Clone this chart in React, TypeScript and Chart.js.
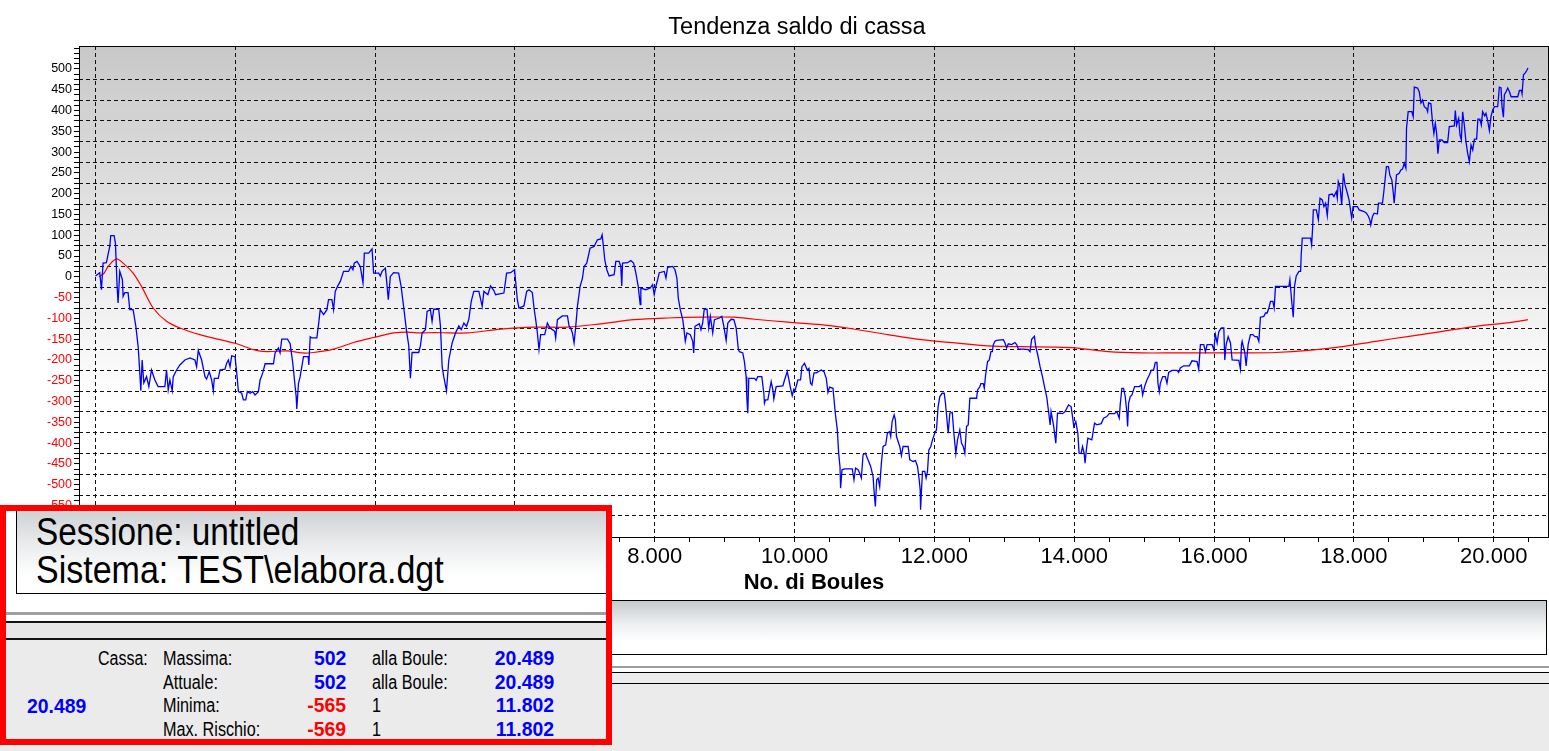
import React, { useEffect, useRef } from 'react';
import { Chart, registerables } from 'chart.js';

Chart.register(...registerables);

const W = 1549;
const H = 751;
const FONT = '"Liberation Sans", Arial, Helvetica, sans-serif';

const chartTitle = 'Tendenza saldo di cassa';
const xAxisTitle = 'No. di Boules';

const xLabelTicks = [0, 2000, 4000, 6000, 8000, 10000, 12000, 14000, 16000, 18000, 20000];
const yLabelTicks = [-600, -550, -500, -450, -400, -350, -300, -250, -200, -150, -100, -50, 0, 50, 100, 150, 200, 250, 300, 350, 400, 450, 500];
const yGridTicks = [-575, -525, -475, -425, -375, -325, -275, -225, -175, -125, -75, -25, 25, 75, 125, 175, 225, 275, 325, 375, 425, 475];

// Blue line: cash balance (No. di Boules -> saldo)
const bouleIndex = [
  0, 62, 86, 109, 157, 205, 219, 267, 286, 310, 324, 348, 386, 396, 420, 467, 491, 539, 578, 611,
  635, 649, 668, 692, 731, 764, 802, 850, 897, 993, 1017, 1041, 1065, 1098, 1113, 1161, 1208, 1280, 1352, 1423,
  1447, 1471, 1519, 1567, 1590, 1628, 1662, 1686, 1700, 1757, 1782, 1853, 1877, 1901, 1925, 1949, 1997, 2021, 2045, 2092,
  2116, 2150, 2173, 2212, 2250, 2283, 2331, 2355, 2393, 2427, 2546, 2570, 2617, 2641, 2665, 2747, 2785, 2823, 2847, 2871,
  2880, 2904, 2928, 2952, 2976, 3043, 3052, 3072, 3096, 3167, 3191, 3215, 3263, 3311, 3334, 3382, 3406, 3430, 3463, 3502,
  3549, 3621, 3655, 3683, 3702, 3741, 3788, 3827, 3846, 3908, 3956, 3979, 4051, 4075, 4099, 4147, 4161, 4189, 4218, 4266,
  4337, 4372, 4409, 4447, 4481, 4505, 4529, 4624, 4648, 4672, 4720, 4744, 4791, 4815, 4839, 4910, 4935, 4959, 4982, 5021,
  5054, 5102, 5150, 5198, 5232, 5270, 5307, 5341, 5375, 5412, 5484, 5532, 5556, 5613, 5651, 5699, 5723, 5842, 5881, 5938,
  5995, 6034, 6058, 6129, 6168, 6201, 6249, 6273, 6297, 6321, 6344, 6368, 6426, 6464, 6502, 6536, 6569, 6583, 6608, 6679,
  6751, 6775, 6798, 6822, 6846, 6870, 6894, 6932, 6966, 6989, 7027, 7075, 7132, 7180, 7228, 7247, 7266, 7285, 7314, 7347,
  7419, 7443, 7490, 7514, 7528, 7539, 7610, 7658, 7697, 7730, 7763, 7792, 7801, 7873, 7935, 7969, 7992, 8016, 8041, 8064,
  8136, 8160, 8184, 8256, 8289, 8317, 8336, 8365, 8399, 8413, 8437, 8460, 8508, 8543, 8557, 8575, 8637, 8661, 8685, 8708,
  8747, 8772, 8795, 8829, 8853, 8925, 8959, 8988, 9021, 9045, 9093, 9131, 9164, 9196, 9211, 9259, 9282, 9307, 9316, 9330,
  9345, 9426, 9450, 9474, 9531, 9560, 9569, 9584, 9617, 9665, 9689, 9703, 9727, 9737, 9833, 9856, 9895, 9919, 9942, 9966,
  9990, 10009, 10047, 10085, 10105, 10142, 10181, 10205, 10228, 10248, 10277, 10310, 10381, 10420, 10453, 10477, 10501, 10549, 10582, 10611,
  10630, 10649, 10658, 10678, 10715, 10825, 10849, 10872, 10907, 10930, 10955, 10979, 11012, 11050, 11088, 11122, 11137, 11155, 11174, 11194,
  11217, 11241, 11265, 11303, 11327, 11360, 11375, 11395, 11424, 11442, 11457, 11504, 11528, 11552, 11624, 11648, 11696, 11729, 11758, 11782,
  11796, 11802, 11815, 11829, 11862, 11881, 11901, 11920, 11948, 11972, 12005, 12029, 12053, 12077, 12111, 12140, 12158, 12197, 12220, 12255,
  12278, 12306, 12330, 12363, 12387, 12412, 12435, 12459, 12483, 12507, 12603, 12617, 12650, 12664, 12698, 12713, 12732, 12760, 12785, 12808,
  12828, 12842, 12866, 12890, 12986, 13009, 13033, 13057, 13105, 13152, 13176, 13201, 13272, 13344, 13367, 13391, 13430, 13449, 13478, 13511,
  13545, 13574, 13607, 13631, 13655, 13668, 13703, 13736, 13760, 13797, 13831, 13869, 13918, 13955, 13975, 13993, 14022, 14051, 14069, 14098,
  14118, 14141, 14155, 14170, 14194, 14251, 14290, 14323, 14385, 14419, 14466, 14500, 14576, 14609, 14643, 14657, 14681, 14705, 14729, 14753,
  14763, 14777, 14801, 14825, 14863, 14930, 14958, 14978, 15006, 15039, 15073, 15101, 15135, 15159, 15183, 15197, 15216, 15231, 15265, 15302,
  15326, 15350, 15398, 15469, 15493, 15517, 15565, 15646, 15684, 15756, 15780, 15804, 15852, 15876, 15900, 15971, 15995, 16019, 16043, 16067,
  16105, 16139, 16153, 16172, 16201, 16234, 16258, 16354, 16377, 16392, 16401, 16440, 16458, 16487, 16520, 16554, 16583, 16616, 16640, 16663,
  16711, 16735, 16759, 16783, 16807, 16840, 16859, 16878, 17070, 17084, 17108, 17132, 17151, 17175, 17213, 17237, 17246, 17261, 17380, 17395,
  17409, 17419, 17462, 17491, 17515, 17547, 17571, 17595, 17619, 17643, 17691, 17714, 17748, 17762, 17776, 17801, 17825, 17849, 17873, 17906,
  17930, 17954, 17968, 17988, 18050, 18074, 18146, 18179, 18208, 18227, 18241, 18265, 18289, 18336, 18351, 18408, 18425, 18440, 18465, 18494,
  18513, 18542, 18561, 18576, 18599, 18609, 18647, 18671, 18695, 18719, 18743, 18752, 18776, 18829, 18848, 18863, 18910, 18934, 18958, 18982,
  19006, 19039, 19054, 19068, 19101, 19125, 19144, 19164, 19183, 19201, 19221, 19259, 19292, 19340, 19364, 19436, 19450, 19469, 19498, 19517,
  19536, 19555, 19579, 19602, 19627, 19651, 19675, 19699, 19723, 19755, 19773, 19802, 19822, 19841, 19870, 19888, 19912, 19937, 19960, 19985,
  20009, 20056, 20080, 20104, 20118, 20138, 20152, 20176, 20200, 20224, 20248, 20343, 20367, 20396, 20405, 20425, 20453, 20472, 20489,
];
const cassaSaldo = [
  2, 10, -31, 33, 34, 73, 99, 99, 81, -23, -63, 13, -7, -47, -38, -38, -79, -79, -119, -168,
  -231, -274, -200, -255, -240, -264, -224, -248, -264, -264, -224, -272, -248, -274, -240, -224, -212, -200, -195, -200,
  -216, -177, -200, -240, -246, -228, -248, -274, -244, -244, -224, -222, -208, -200, -216, -190, -192, -231, -276, -280,
  -296, -296, -276, -280, -276, -284, -276, -248, -231, -209, -209, -183, -171, -183, -150, -150, -161, -208, -248, -288,
  -318, -256, -240, -216, -192, -192, -212, -144, -147, -147, -115, -79, -91, -79, -55, -55, -79, -35, -23, -11,
  13, 13, 25, 17, 33, 37, 25, -15, 57, 57, 67, 9, 9, 2, 13, 21, -3, -55, 1, 10,
  9, -23, -73, -127, -165, -244, -182, -182, -166, -135, -127, -83, -79, -107, -78, -78, -119, -216, -240, -274,
  -200, -159, -135, -118, -127, -111, -119, -102, -59, -35, -35, -71, -35, -43, -22, -33, -43, -39, 9, 10,
  17, -55, -75, -70, -35, -31, -38, -75, -103, -135, -175, -139, -139, -111, -123, -127, -131, -147, -103, -94,
  -94, -119, -123, -135, -159, -119, -71, -23, -3, 25, 33, 69, 73, 89, 91, 101, 73, 41, 17, 2,
  5, 37, 37, 25, -22, 33, 34, 39, 33, 9, -23, -67, -27, -31, -27, -19, -43, -23, -7, 10,
  13, -3, 23, 25, 17, -3, -51, -79, -102, -119, -155, -135, -139, -155, -183, -119, -113, -127, -111, -78,
  -78, -123, -95, -135, -103, -99, -95, -119, -153, -111, -102, -103, -123, -175, -180, -183, -204, -240, -288, -328,
  -244, -244, -249, -240, -240, -280, -304, -296, -296, -252, -272, -294, -272, -264, -262, -248, -228, -248, -268, -286,
  -270, -272, -248, -248, -216, -208, -224, -220, -256, -260, -231, -231, -224, -228, -244, -278, -265, -268, -328, -368,
  -424, -456, -508, -464, -462, -462, -488, -460, -464, -472, -484, -428, -424, -440, -456, -480, -516, -552, -488, -484,
  -504, -448, -408, -404, -376, -372, -384, -348, -332, -344, -384, -408, -430, -408, -408, -440, -444, -442, -456, -488,
  -512, -560, -512, -468, -468, -484, -468, -416, -408, -392, -376, -368, -312, -288, -280, -280, -304, -376, -328, -326,
  -376, -425, -392, -368, -400, -408, -424, -360, -356, -292, -292, -272, -264, -257, -257, -268, -236, -204, -200, -180,
  -180, -163, -155, -153, -151, -159, -171, -161, -163, -158, -163, -174, -174, -175, -180, -150, -143, -168, -188, -216,
  -240, -264, -290, -322, -356, -324, -356, -400, -328, -328, -329, -324, -308, -312, -336, -360, -348, -376, -424, -425,
  -408, -424, -448, -420, -388, -392, -352, -356, -353, -340, -336, -329, -329, -324, -340, -308, -268, -268, -288, -328,
  -360, -304, -288, -284, -264, -264, -260, -284, -264, -248, -236, -225, -224, -206, -206, -256, -276, -256, -240, -240,
  -256, -230, -225, -225, -230, -219, -214, -214, -202, -204, -222, -163, -163, -180, -163, -163, -175, -139, -159, -132,
  -123, -123, -200, -163, -144, -159, -200, -201, -222, -163, -155, -183, -214, -163, -139, -139, -144, -144, -155, -97,
  -95, -87, -87, -75, -59, -59, -75, -23, -23, -7, -55, -97, -22, 2, 13, 13, 53, 93, 93, 77,
  117, 161, 161, 137, 189, 185, 169, 177, 147, 197, 199, 193, 205, 189, 229, 217, 173, 249, 221, 201,
  185, 157, 141, 169, 169, 161, 157, 153, 145, 137, 125, 145, 153, 151, 177, 177, 201, 225, 265, 265,
  245, 233, 205, 177, 225, 245, 249, 257, 259, 273, 261, 357, 397, 397, 385, 456, 454, 445, 418, 425,
  409, 405, 397, 418, 416, 369, 345, 369, 345, 296, 329, 329, 323, 323, 361, 363, 400, 365, 381, 341,
  329, 397, 365, 325, 297, 277, 317, 305, 331, 331, 379, 379, 365, 397, 387, 393, 376, 352, 385, 401,
  409, 409, 456, 454, 409, 384, 438, 445, 454, 445, 433, 433, 448, 448, 440, 486, 491, 496, 502,
];

// Red line: moving average of the balance
const mediaBoule = [
  50, 120, 181, 300, 396, 539, 659, 826, 1017, 1208, 1495, 1782, 2021, 2259, 2451, 2738, 2952, 3119, 3406, 3692,
  3979, 4266, 4457, 4648, 4839, 5078, 5317, 5795, 6273, 6751, 7228, 7706, 8184, 8661, 9139, 9426, 9904, 10381, 10859, 11337,
  11815, 12293, 12771, 13249, 13726, 14012, 14490, 14968, 15445, 15923, 16401, 16878, 17356, 17835, 18313, 18790, 19268, 19745, 20223, 20489,
];
const mediaSaldo = [
  0, 8, 25, 43, 33, 9, -23, -75, -107, -123, -139, -151, -161, -175, -180, -178, -183, -182, -174, -158,
  -146, -135, -133, -135, -134, -135, -135, -126, -121, -121, -113, -103, -99, -97, -97, -102, -109, -115, -126, -139,
  -151, -159, -166, -168, -169, -171, -180, -183, -183, -183, -183, -182, -177, -168, -155, -143, -131, -119, -110, -103,
];

// Statistics panel
const sessionLines = ['Sessione: untitled', 'Sistema: TEST\\elabora.dgt'];
const statNames = ['Massima:', 'Attuale:', 'Minima:', 'Max. Rischio:'];
const statValues = [502, 502, -565, -569];
const statRefNames = ['alla Boule:', 'alla Boule:', '1', '1'];
const statBoules = ['20.489', '20.489', '11.802', '11.802'];
const currentBoule = '20.489';

const fmtIt = (v: number) => String(v).replace(/\B(?=(\d{3})+(?!\d))/g, '.');

const GRID = '#111111';
const CLEAR = 'rgba(0,0,0,0)';

const framePlugin = {
  id: 'frameBg',
  beforeDraw(chart: any) {
    const { ctx, chartArea: a } = chart;
    ctx.save();
    const g = ctx.createLinearGradient(0, a.top, 0, a.top + 360);
    g.addColorStop(0, '#c8c8c8');
    g.addColorStop(1, '#ffffff');
    ctx.fillStyle = g;
    ctx.fillRect(a.left, a.top, a.right - a.left, a.bottom - a.top);
    ctx.restore();
  },
  afterDraw(chart: any) {
    const { ctx, chartArea: a } = chart;
    ctx.save();
    ctx.strokeStyle = '#000';
    ctx.lineWidth = 1;
    const l = Math.round(a.left) + 0.5;
    const t = Math.round(a.top) + 0.5;
    const r = Math.round(a.right) - 0.5;
    const b = Math.round(a.bottom) - 0.5;
    ctx.strokeRect(l, t, r - l, b - t);
    // chart title
    ctx.fillStyle = '#000';
    ctx.font = `23.5px ${FONT}`;
    ctx.textAlign = 'center';
    ctx.textBaseline = 'alphabetic';
    ctx.fillText(chartTitle, 797, 34);
    ctx.restore();
  },
};

type TxtProps = {
  x: number;
  base: number;
  size: number;
  text: string;
  color?: string;
  bold?: boolean;
  sx?: number;
  right?: boolean;
};

function Txt({ x, base, size, text, color = '#000', bold = false, sx = 1, right = false }: TxtProps) {
  const style: React.CSSProperties = {
    position: 'absolute',
    top: base - 0.8465 * size,
    fontSize: size,
    lineHeight: `${size}px`,
    fontFamily: FONT,
    fontWeight: bold ? 700 : 400,
    color,
    whiteSpace: 'nowrap',
    transform: `scaleX(${sx})`,
    transformOrigin: right ? 'right top' : 'left top',
  };
  if (right) style.right = W - x;
  else style.left = x;
  return <div style={style}>{text}</div>;
}

export default function App() {
  const ref = useRef<HTMLCanvasElement>(null);

  useEffect(() => {
    const canvas = ref.current;
    if (!canvas) return;
    const chart = new Chart(canvas, {
      type: 'line',
      data: {
        datasets: [
          {
            label: 'Cassa',
            data: bouleIndex.map((x, i) => ({ x, y: cassaSaldo[i] })),
            borderColor: '#0000ff',
            borderWidth: 1.3,
            pointRadius: 0,
            tension: 0,
          },
          {
            label: 'Media',
            data: mediaBoule.map((x, i) => ({ x, y: mediaSaldo[i] })),
            borderColor: '#ff0000',
            borderWidth: 1.2,
            pointRadius: 0,
            tension: 0.3,
          },
        ],
      },
      options: {
        responsive: false,
        animation: false,
        devicePixelRatio: 1,
        layout: { padding: { left: 0, right: 0, top: 46, bottom: 0 } },
        plugins: {
          legend: { display: false },
          tooltip: { enabled: false },
          title: { display: false },
        },
        scales: {
          x: {
            type: 'linear',
            min: -235,
            max: 20790,
            afterBuildTicks: (s: any) => {
              const t = [];
              for (let v = 0; v <= 20500; v += 500) t.push({ value: v });
              s.ticks = t;
            },
            afterFit: (s: any) => {
              s.height = 62;
            },
            ticks: {
              autoSkip: false,
              maxRotation: 0,
              padding: 2,
              color: '#000',
              font: { family: FONT, size: 22 },
              callback: (v: any) => (xLabelTicks.includes(Number(v)) ? fmtIt(Number(v)) : ''),
            },
            grid: {
              color: (c: any) => (c.tick && xLabelTicks.includes(c.tick.value) ? GRID : CLEAR),
              lineWidth: 1,
              tickColor: '#000',
              tickLength: 4,
            },
            border: { display: false, dash: [4, 3] },
            title: {
              display: true,
              text: xAxisTitle,
              color: '#000',
              font: { family: FONT, size: 22, weight: 'bold' },
              padding: { top: 0, bottom: 4 },
            },
          },
          y: {
            type: 'linear',
            min: -628,
            max: 555,
            afterBuildTicks: (s: any) => {
              const t = [];
              for (let v = -625; v <= 550; v += 12.5) t.push({ value: v });
              s.ticks = t;
            },
            afterFit: (s: any) => {
              s.width = 79;
            },
            ticks: {
              autoSkip: false,
              padding: 2,
              font: { family: FONT, size: 12.5 },
              color: (c: any) => (c.tick && c.tick.value < 0 ? '#ff0000' : '#000'),
              callback: (v: any) => (yLabelTicks.includes(Number(v)) ? String(v) : ''),
            },
            grid: {
              color: (c: any) => (c.tick && yGridTicks.includes(c.tick.value) ? GRID : CLEAR),
              lineWidth: 1,
              tickColor: '#000',
              tickLength: 5,
            },
            border: { display: false, dash: [4, 3] },
          },
        },
      },
      plugins: [framePlugin],
    });
    return () => chart.destroy();
  }, []);

  return (
    <div
      style={{
        position: 'absolute',
        left: 0,
        top: 0,
        width: W,
        height: H,
        background: '#ffffff',
        overflow: 'hidden',
        fontFamily: FONT,
      }}
    >
      <canvas ref={ref} width={W} height={600} style={{ position: 'absolute', left: 0, top: 0, width: W, height: 600 }} />

      {/* lower status panel */}
      <div
        style={{
          position: 'absolute',
          left: 0,
          top: 600,
          width: 1547,
          height: 55,
          boxSizing: 'border-box',
          border: '1px solid #000',
          background: 'linear-gradient(to bottom, #c6cacd 0%, #eef0f1 45%, #ffffff 75%)',
        }}
      />
      <div style={{ position: 'absolute', left: 0, top: 666, width: W, height: 2, background: '#9c9c9c' }} />
      <div
        style={{
          position: 'absolute',
          left: 0,
          top: 672,
          width: W,
          height: 12,
          boxSizing: 'border-box',
          background: '#ececec',
          borderTop: '1px solid #000',
          borderBottom: '1px solid #000',
        }}
      />
      <div style={{ position: 'absolute', left: 0, top: 684, width: W, height: H - 684, background: '#ebebeb' }} />

      {/* magnified inset with red frame */}
      <div
        style={{
          position: 'absolute',
          left: 0,
          top: 505,
          width: 612,
          height: 240,
          boxSizing: 'border-box',
          border: '6px solid #ff0000',
          background: '#ffffff',
          overflow: 'hidden',
        }}
      >
        <div
          style={{
            position: 'absolute',
            left: 10,
            top: 0,
            width: 620,
            height: 83,
            boxSizing: 'border-box',
            borderLeft: '1px solid #000',
            borderBottom: '1px solid #000',
            background: 'linear-gradient(to bottom, #cfd2d5 0%, #eceeef 45%, #ffffff 80%)',
          }}
        />
        <div style={{ position: 'absolute', left: 0, top: 101, width: 620, height: 3, background: '#a0a0a0' }} />
        <div style={{ position: 'absolute', left: 0, top: 110, width: 620, height: 2, background: '#111' }} />
        <div style={{ position: 'absolute', left: 0, top: 112, width: 620, height: 15, background: '#e6e6e6' }} />
        <div style={{ position: 'absolute', left: 0, top: 127, width: 620, height: 2, background: '#111' }} />
        <div style={{ position: 'absolute', left: 0, top: 129, width: 620, height: 120, background: '#ebebeb' }} />
      </div>

      <Txt x={36} base={545} size={39} sx={0.855} text={sessionLines[0]} />
      <Txt x={36} base={583} size={39} sx={0.872} text={sessionLines[1]} />

      <Txt x={98} base={665} size={20} sx={0.8} text="Cassa:" />
      <Txt x={27} base={713} size={20} bold sx={0.97} color="#0000ff" text={currentBoule} />
      {statNames.map((name, i) => {
        const base = 665 + i * 23.7;
        return (
          <React.Fragment key={name}>
            <Txt x={163} base={base} size={20} sx={0.81} text={name} />
            <Txt
              x={346}
              base={base}
              size={20}
              bold
              right
              sx={0.97}
              color={statValues[i] < 0 ? '#ff0000' : '#0000ff'}
              text={String(statValues[i])}
            />
            <Txt x={372} base={base} size={20} sx={0.81} text={statRefNames[i]} />
            <Txt x={554} base={base} size={20} bold right sx={0.97} color="#0000ff" text={statBoules[i]} />
          </React.Fragment>
        );
      })}
    </div>
  );
}
